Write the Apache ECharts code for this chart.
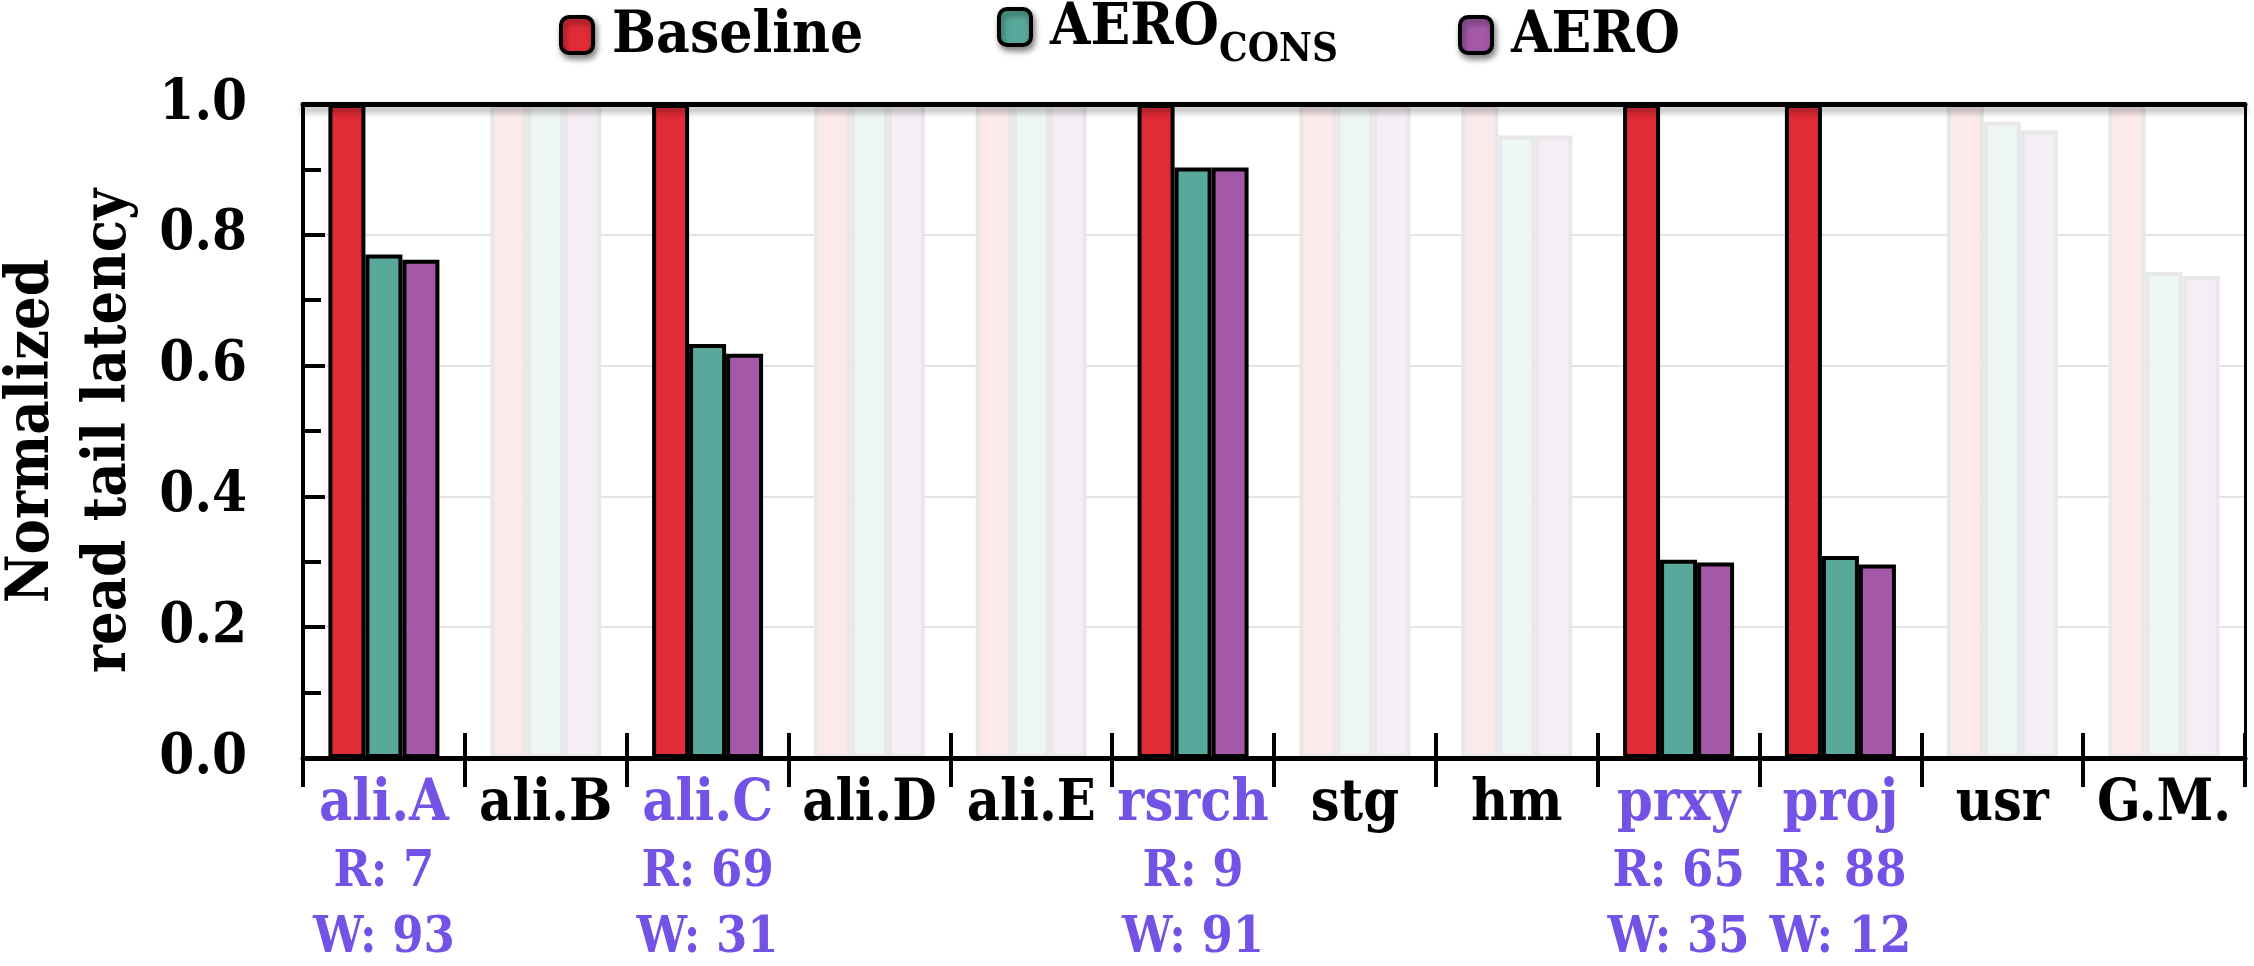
<!DOCTYPE html>
<html>
<head>
<meta charset="utf-8">
<script src="https://cdn.jsdelivr.net/npm/echarts@6/dist/echarts.min.js"></script>
<style>
  html, body { margin: 0; padding: 0; background: #ffffff; }
  #chart { width: 2254px; height: 966px; }
</style>
</head>
<body>
<div id="chart"></div>
<script>
// Workloads on the x axis
const categories = ['ali.A', 'ali.B', 'ali.C', 'ali.D', 'ali.E', 'rsrch', 'stg', 'hm', 'prxy', 'proj', 'usr', 'G.M.'];
// Normalized read tail latency per scheme
const baseline = [1.0, 1.0, 1.0, 1.0, 1.0, 1.0, 1.0, 1.0, 1.0, 1.0, 1.0, 1.0];
const aeroCons = [0.770, 1.0, 0.633, 1.0, 1.0, 0.903, 1.0, 0.952, 0.303, 0.309, 0.973, 0.743];
const aero     = [0.762, 1.0, 0.618, 1.0, 1.0, 0.903, 1.0, 0.952, 0.299, 0.296, 0.960, 0.737];
// Workloads shown in full colour; the rest are dimmed
const highlighted = [true, false, true, false, false, true, false, false, true, true, false, false];
// Read / write ratio (%) of the highlighted workloads
const readPct  = [7, null, 69, null, null, 9, null, null, 65, 88, null, null];
const writePct = [93, null, 31, null, null, 91, null, null, 35, 12, null, null];
// Y axis range and step
const yMin = 0, yMax = 1.0, yStep = 0.2;

const FONT = '"DejaVu Serif Condensed", "DejaVu Serif", serif';
const RED = '#E12B37', TEAL = '#58A99B', PURPLE = '#A459A8';
const LABEL_PURPLE = '#7352E6';

// Blend a colour towards white (used for the dimmed bars)
function tint(hex, k) {
  const n = parseInt(hex.slice(1), 16);
  const r = (n >> 16) & 255, g = (n >> 8) & 255, b = n & 255;
  const m = c => Math.round(255 - (255 - c) * k);
  return 'rgb(' + m(r) + ',' + m(g) + ',' + m(b) + ')';
}

function barSeries(name, color, values) {
  return {
    name: name,
    type: 'bar',
    barWidth: 37,
    barGap: '0%',
    z: 2,
    emphasis: { disabled: true },
    itemStyle: { color: color, borderColor: '#000', borderWidth: 4 },
    data: values.map((v, i) => highlighted[i]
      ? { value: v }
      : { value: v, itemStyle: { color: tint(color, 0.1), borderColor: '#e8e8e8' } })
  };
}

const legendText = {
  fontFamily: FONT, fontWeight: 'bold', fontSize: 58, color: '#000', lineHeight: 66,
  padding: [4, 0, 0, 14],
  rich: {
    m: { fontFamily: FONT, fontWeight: 'bold', fontSize: 58, color: '#000', lineHeight: 66 },
    s: { fontFamily: FONT, fontWeight: 'bold', fontSize: 40, color: '#000', lineHeight: 24, padding: [44, 0, 0, 0] }
  }
};

// One legend per series so each entry sits at its own x position
function legendAt(name, left, top) {
  return {
    data: [name],
    left: left,
    top: top,
    padding: 0,
    selectedMode: false,
    icon: 'roundRect',
    itemWidth: 32,
    itemHeight: 36,
    itemStyle: {
      borderColor: '#000', borderWidth: 4,
      shadowBlur: 6, shadowColor: 'rgba(0,0,0,0.45)', shadowOffsetX: 2, shadowOffsetY: 4
    },
    textStyle: legendText,
    formatter: n => n === 'AERO_CONS' ? '{m|AERO}{s|CONS}' : n
  };
}

const labelRich = {
  h: { fontFamily: FONT, fontWeight: 'bold', fontSize: 57, color: LABEL_PURPLE, lineHeight: 70 },
  n: { fontFamily: FONT, fontWeight: 'bold', fontSize: 57, color: '#000', lineHeight: 70 },
  r: { fontFamily: FONT, fontWeight: 'bold', fontSize: 50, color: LABEL_PURPLE, lineHeight: 66 }
};

const chart = echarts.init(document.getElementById('chart'), null, { renderer: 'canvas' });

chart.setOption({
  backgroundColor: '#ffffff',
  animation: false,
  grid: { left: 303, right: 9, top: 104, bottom: 208, outerBoundsMode: 'none' },
  legend: [
    legendAt('Baseline', 559, 0),
    legendAt('AERO_CONS', 997, -13),
    legendAt('AERO', 1458, 0)
  ],
  xAxis: [
    {
      type: 'category',
      data: categories,
      position: 'bottom',
      z: 4,
      axisLine: { show: true, lineStyle: { color: '#000', width: 5 } },
      axisTick: { show: true, inside: false, length: 29, interval: 0, lineStyle: { color: '#000', width: 4 } },
      splitLine: { show: false },
      axisLabel: {
        interval: 0,
        margin: 12,
        formatter: (v, i) => highlighted[i]
          ? '{h|' + v + '}\n{r|R: ' + readPct[i] + '}\n{r|W: ' + writePct[i] + '}'
          : '{n|' + v + '}',
        rich: labelRich
      }
    },
    {
      type: 'category',
      data: categories,
      position: 'bottom',
      z: 4,
      axisLine: { show: false },
      axisTick: { show: true, inside: true, length: 25, interval: 0, lineStyle: { color: '#000', width: 4 } },
      axisLabel: { show: false },
      splitLine: { show: false }
    },
    {
      type: 'category',
      data: categories,
      position: 'top',
      z: 4,
      axisLine: {
        show: true,
        lineStyle: { color: '#000', width: 5, shadowColor: 'rgba(0,0,0,0.35)', shadowBlur: 6, shadowOffsetY: 5 }
      },
      axisTick: { show: false },
      axisLabel: { show: false },
      splitLine: { show: false }
    }
  ],
  yAxis: [
    {
      type: 'value',
      min: yMin, max: yMax, interval: yStep,
      name: 'Normalized\nread tail latency',
      nameLocation: 'middle',
      nameRotate: 90,
      nameGap: 152,
      nameTextStyle: { fontFamily: FONT, fontWeight: 'bold', fontSize: 59, lineHeight: 77, color: '#000' },
      axisLine: { show: true, lineStyle: { color: '#000', width: 4 } },
      axisTick: { show: true, inside: true, length: 22, lineStyle: { color: '#000', width: 4 } },
      minorTick: { show: true, splitNumber: 2, length: 18, lineStyle: { color: '#000', width: 4 } },
      splitLine: { show: true, lineStyle: { color: '#e3e3e3', width: 2 } },
      axisLabel: {
        margin: 56,
        formatter: v => v.toFixed(1),
        fontFamily: FONT, fontWeight: 'bold', fontSize: 56, color: '#000'
      }
    },
    {
      type: 'value',
      position: 'right',
      min: yMin, max: yMax, interval: yStep,
      axisLine: { show: true, lineStyle: { color: '#000', width: 3 } },
      axisTick: { show: false },
      axisLabel: { show: false },
      splitLine: { show: false }
    }
  ],
  series: [
    barSeries('Baseline', RED, baseline),
    barSeries('AERO_CONS', TEAL, aeroCons),
    barSeries('AERO', PURPLE, aero)
  ]
});
</script>
</body>
</html>
